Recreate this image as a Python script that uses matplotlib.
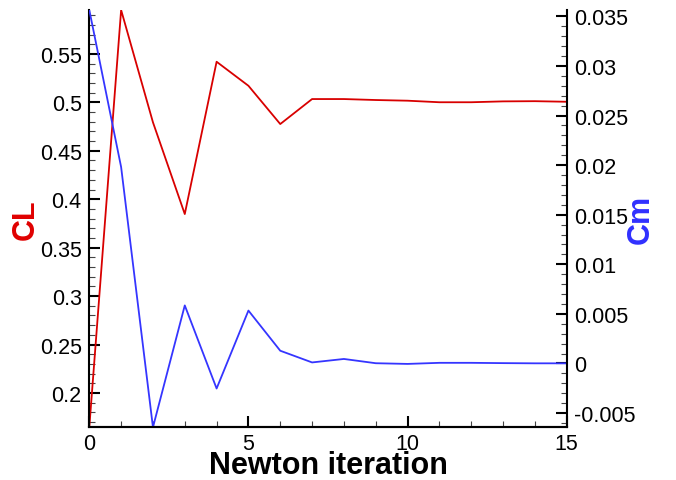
import matplotlib
matplotlib.use("Agg")
import matplotlib.pyplot as plt
from matplotlib.ticker import MultipleLocator, FormatStrFormatter

# Convergence history
iterations = list(range(16))
cl_values = [0.1646, 0.5953, 0.4794, 0.3847, 0.5419, 0.5171, 0.4776, 0.5034,
             0.5034, 0.5024, 0.5017, 0.5001, 0.5001, 0.5010, 0.5012, 0.5006]
cm_values = [0.03564, 0.0198, -0.00644, 0.00585, -0.00253, 0.00533, 0.00128, 0.00010,
             0.00045, 0.00002, -0.00005, 0.00006, 0.00006, 0.00003, 0.00001, 0.00001]

RED = '#d80000'
BLUE = '#3535ff'
TICK_FONT = 15.5
LABEL_FONT = 22

plt.rcParams['font.family'] = ['Liberation Sans', 'DejaVu Sans']

fig = plt.figure(figsize=(6.76, 4.81), dpi=100)
ax = fig.add_axes([0.1321, 0.1096, 0.7062, 0.8675])
ax2 = ax.twinx()

ax.plot(iterations, cl_values, color=RED, linewidth=1.3)
ax2.plot(iterations, cm_values, color=BLUE, linewidth=1.3)

ax.set_xlim(0, 15)
ax.set_ylim(min(cl_values), max(cl_values))
ax2.set_ylim(min(cm_values), max(cm_values))

# ticks: major + minor, all pointing inward
ax.xaxis.set_major_locator(MultipleLocator(5))
ax.xaxis.set_minor_locator(MultipleLocator(1))
ax.yaxis.set_major_locator(MultipleLocator(0.05))
ax.yaxis.set_minor_locator(MultipleLocator(0.01))
ax.yaxis.set_major_formatter(FormatStrFormatter('%g'))
ax2.yaxis.set_major_locator(MultipleLocator(0.005))
ax2.yaxis.set_minor_locator(MultipleLocator(0.001))
ax2.yaxis.set_major_formatter(FormatStrFormatter('%g'))

for a in (ax, ax2):
    a.tick_params(which='major', direction='in', length=7.7, width=1.5,
                  labelsize=TICK_FONT, pad=5.5)
    a.tick_params(which='minor', direction='in', length=4.3, width=0.8, color='#444444')
    a.tick_params(axis='x', which='both', top=False, labeltop=False)
    for sp in a.spines.values():
        sp.set_linewidth(1.5)
    a.spines['top'].set_visible(False)

ax.tick_params(axis='x', which='major', pad=4)
ax.tick_params(axis='y', which='both', right=False)
ax2.tick_params(axis='y', which='both', left=False)
ax.spines['right'].set_visible(False)
ax2.spines['left'].set_visible(False)

ax.set_xlabel('Newton iteration', fontsize=LABEL_FONT, fontweight='bold', va='baseline')
ax.xaxis.set_label_coords(0.5, -0.1085)
ax.set_ylabel('CL', fontsize=LABEL_FONT, fontweight='bold', color='#e00000', va='center')
ax.yaxis.set_label_coords(-0.1326, 0.5)
ax2.set_ylabel('Cm', fontsize=LABEL_FONT, fontweight='bold', color='#3030ff', va='center')
ax2.yaxis.set_label_coords(1.1556, 0.5)

fig.savefig('out.png', dpi=100)
